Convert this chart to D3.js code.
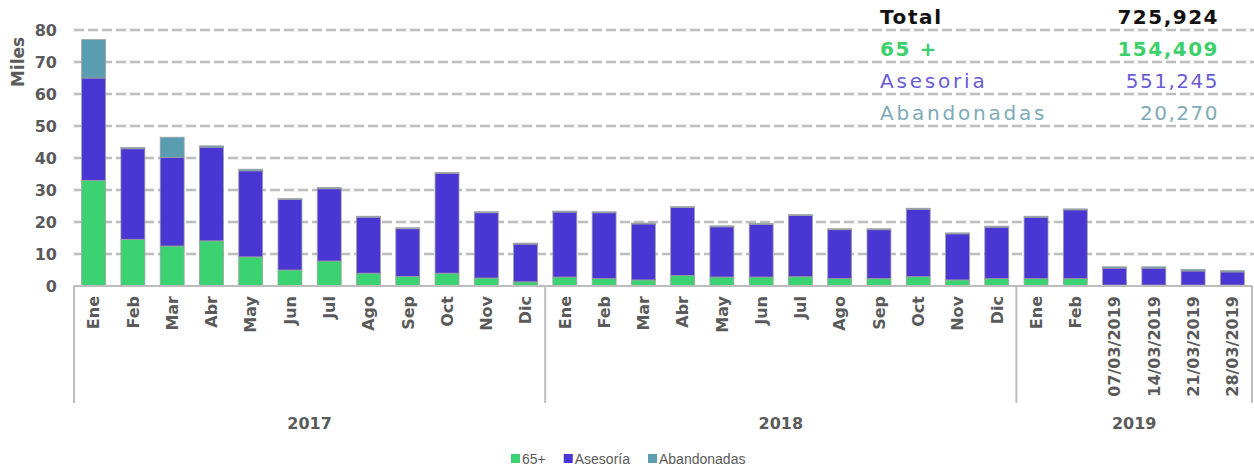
<!DOCTYPE html>
<html>
<head>
<meta charset="utf-8">
<script src="https://cdn.jsdelivr.net/npm/d3@7"></script>
<style>
body { margin: 0; background: #fff; }
svg { display: block; }
</style>
</head>
<body>
<script>
var w = 1254;
var h = 471;

// categories and groups
var labels = ["Ene", "Feb", "Mar", "Abr", "May", "Jun", "Jul", "Ago", "Sep", "Oct", "Nov", "Dic",
              "Ene", "Feb", "Mar", "Abr", "May", "Jun", "Jul", "Ago", "Sep", "Oct", "Nov", "Dic",
              "Ene", "Feb", "07/03/2019", "14/03/2019", "21/03/2019", "28/03/2019"];
var years = ["2017", "2018", "2019"];
var yearCounts = [12, 12, 6];

// values in thousands
var mayores = [33.0, 14.6, 12.5, 14.1, 9.1, 5.0, 7.8, 4.0, 3.0, 4.0, 2.5, 1.3,
               2.8, 2.3, 1.9, 3.3, 2.8, 2.8, 2.9, 2.3, 2.3, 2.9, 1.9, 2.3,
               2.3, 2.3, 0.3, 0.3, 0.3, 0.3];
var asesoria = [32.0, 28.3, 27.7, 29.3, 26.9, 22.1, 22.6, 17.5, 14.9, 31.2, 20.4, 11.8,
                20.3, 20.6, 17.5, 21.2, 15.7, 16.5, 19.1, 15.3, 15.3, 21.1, 14.4, 16.1,
                19.2, 21.5, 5.3, 5.3, 4.4, 4.1];
var abandonadas = [12.0, 0.4, 6.3, 0.4, 0.5, 0.2, 0.4, 0.3, 0.3, 0.3, 0.3, 0.3,
                   0.3, 0.3, 0.3, 0.3, 0.3, 0.3, 0.3, 0.3, 0.3, 0.3, 0.3, 0.3,
                   0.3, 0.3, 0.4, 0.4, 0.5, 0.4];
var yTicks = [0, 10, 20, 30, 40, 50, 60, 70, 80];

var seriesNames = ["65+", "Asesoría", "Abandonadas"];
var colors = ["#3bd371", "#4a36d3", "#5a9db1"];

var summaryLabels = ["Total", "65 +", "Asesoria", "Abandonadas"];
var summaryValues = ["725,924", "154,409", "551,245", "20,270"];
var summaryColors = ["#111111", "#3dcf6c", "#6a5bd6", "#7eaab8"];
var summaryWeights = ["bold", "bold", "normal", "normal"];

var keys = labels.map(function(d, i) { return i; });
var rows = keys.map(function(i) {
    return { key: i, m: mayores[i], a: asesoria[i], b: abandonadas[i] };
});

var plotLeft = 74, plotRight = 1252, plotTop = 30, plotBottom = 286;

var xScale = d3.scaleBand()
    .domain(keys)
    .range([plotLeft, plotRight])
    .paddingInner(0.39)
    .paddingOuter(0.195);

var yScale = d3.scaleLinear()
    .domain([0, 80])
    .range([plotBottom, plotTop]);

var svg = d3.select("body").append("svg")
    .attr("width", w)
    .attr("height", h);

var font = "'DejaVu Sans', sans-serif";
var grey = "#5a5a5a";

// dashed gridlines
svg.append("g")
    .selectAll("line")
    .data(yTicks.filter(function(d) { return d > 0; }))
    .enter()
    .append("line")
    .attr("x1", plotLeft)
    .attr("x2", w)
    .attr("y1", function(d) { return yScale(d); })
    .attr("y2", function(d) { return yScale(d); })
    .attr("stroke", "#bdbdbd")
    .attr("stroke-width", 2.5)
    .attr("stroke-dasharray", "10,4");

// y axis labels
var yAxis = d3.axisLeft(yScale)
    .tickValues(yTicks)
    .tickSize(0)
    .tickPadding(0);

var yg = svg.append("g")
    .attr("transform", "translate(57,0)")
    .call(yAxis);
yg.select(".domain").remove();
yg.selectAll("text")
    .attr("font-family", font)
    .attr("font-weight", "bold")
    .attr("font-size", "16px")
    .attr("fill", grey);

svg.append("text")
    .text("Miles")
    .attr("transform", "translate(24,62) rotate(-90)")
    .attr("text-anchor", "middle")
    .attr("font-family", font)
    .attr("font-weight", "bold")
    .attr("font-size", "17px")
    .attr("fill", grey);

// stacked bars
var stack = d3.stack().keys(["m", "a", "b"]);
var layers = stack(rows);

svg.append("g")
    .selectAll("g")
    .data(layers)
    .enter()
    .append("g")
    .attr("fill", function(d, i) { return colors[i]; })
    .selectAll("rect")
    .data(function(d) { return d; })
    .enter()
    .append("rect")
    .attr("x", function(d) { return xScale(d.data.key); })
    .attr("width", xScale.bandwidth())
    .attr("y", function(d) { return yScale(d[1]); })
    .attr("height", function(d) { return yScale(d[0]) - yScale(d[1]); })
    .attr("stroke", "#a0a0a0")
    .attr("stroke-width", 0.8);

// x axis line and group separators
svg.append("line")
    .attr("x1", plotLeft)
    .attr("x2", plotRight)
    .attr("y1", plotBottom)
    .attr("y2", plotBottom)
    .attr("stroke", "#bdbdbd")
    .attr("stroke-width", 2);

var bounds = [0];
yearCounts.forEach(function(c, i) { bounds.push(bounds[i] + c); });
var edgeX = function(k) {
    return plotLeft + (plotRight - plotLeft) * k / labels.length;
};

svg.append("g")
    .selectAll("line")
    .data(bounds)
    .enter()
    .append("line")
    .attr("x1", function(d) { return edgeX(d); })
    .attr("x2", function(d) { return edgeX(d); })
    .attr("y1", plotBottom)
    .attr("y2", 403)
    .attr("stroke", "#bdbdbd")
    .attr("stroke-width", 2);

// category labels
svg.append("g")
    .selectAll("text")
    .data(keys)
    .enter()
    .append("text")
    .text(function(d) { return labels[d]; })
    .attr("transform", function(d) {
        return "translate(" + (xScale(d) + xScale.bandwidth() / 2) + ",296) rotate(-90)";
    })
    .attr("dy", "0.36em")
    .attr("text-anchor", "end")
    .attr("font-family", font)
    .attr("font-weight", "bold")
    .attr("font-size", "16px")
    .attr("fill", grey);

// year labels
svg.append("g")
    .selectAll("text")
    .data(years)
    .enter()
    .append("text")
    .text(function(d) { return d; })
    .attr("x", function(d, i) { return (edgeX(bounds[i]) + edgeX(bounds[i + 1])) / 2; })
    .attr("y", 429)
    .attr("text-anchor", "middle")
    .attr("font-family", font)
    .attr("font-weight", "bold")
    .attr("font-size", "16px")
    .attr("fill", grey);

// summary table
var summary = svg.append("g");
summary.selectAll("text.lab")
    .data(summaryLabels)
    .enter()
    .append("text")
    .attr("class", "lab")
    .text(function(d) { return d; })
    .attr("x", 880)
    .attr("y", function(d, i) { return yScale(80 - i * 10) - 6; })
    .attr("font-family", font)
    .attr("font-size", "20px")
    .attr("font-weight", function(d, i) { return summaryWeights[i]; })
    .attr("letter-spacing", function(d, i) { return i < 2 ? "1.6px" : "2.8px"; })
    .attr("fill", function(d, i) { return summaryColors[i]; });

summary.selectAll("text.val")
    .data(summaryValues)
    .enter()
    .append("text")
    .attr("class", "val")
    .text(function(d) { return d; })
    .attr("x", 1219)
    .attr("y", function(d, i) { return yScale(80 - i * 10) - 6; })
    .attr("text-anchor", "end")
    .attr("font-family", font)
    .attr("font-size", "20px")
    .attr("font-weight", function(d, i) { return summaryWeights[i]; })
    .attr("letter-spacing", "1.5px")
    .attr("fill", function(d, i) { return summaryColors[i]; });

// legend
var legend = svg.append("g");
var lx = 511;
seriesNames.forEach(function(name, i) {
    legend.append("rect")
        .attr("x", lx)
        .attr("y", 454)
        .attr("width", 9)
        .attr("height", 9)
        .attr("fill", colors[i]);
    var t = legend.append("text")
        .text(name)
        .attr("x", lx + 11)
        .attr("y", 464)
        .attr("font-family", "'Liberation Sans', Arial, sans-serif")
        .attr("font-size", "14px")
        .attr("fill", grey);
    lx = lx + 11 + t.node().getComputedTextLength() + 18;
});
</script>
</body>
</html>
